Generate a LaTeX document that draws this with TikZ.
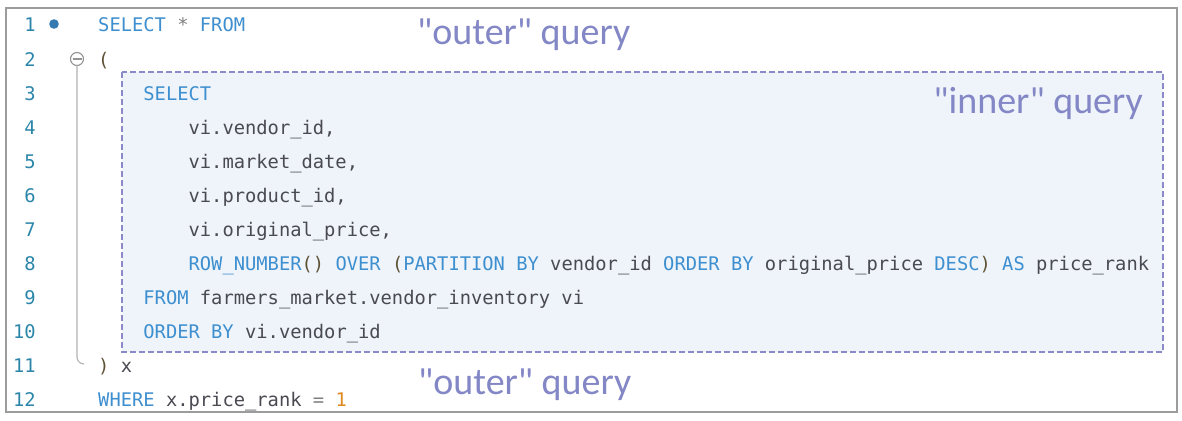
\documentclass[tikz,border=0pt]{standalone}
\usepackage{fontspec}
\newfontfamily\codefont{DejaVu Sans Mono}
\newfontfamily\labelfont{Carlito}
\definecolor{kwc}{HTML}{3E8FCF}
\definecolor{idc}{HTML}{4A4A52}
\definecolor{lnc}{HTML}{2B86AA}
\definecolor{pac}{HTML}{5E5236}
\definecolor{numc}{HTML}{E08A1E}
\definecolor{opc}{HTML}{808080}
\definecolor{lblc}{HTML}{8387C6}
\definecolor{dashc}{HTML}{8A8AC8}
\definecolor{innerfill}{HTML}{EEF4FA}
\definecolor{framec}{HTML}{9C9C9C}
\newcommand{\kw}[1]{\textcolor{kwc}{#1}}
\newcommand{\pa}[1]{\textcolor{pac}{#1}}
\newcommand{\op}[1]{\textcolor{opc}{#1}}
\newcommand{\nm}[1]{\textcolor{numc}{#1}}
\begin{document}
\begin{tikzpicture}[x=1pt,y=-1pt,
  codeline/.style={anchor=base west,inner sep=0pt,text=idc,font=\codefont\fontsize{18.77}{20}\selectfont},
  lnum/.style={anchor=base east,inner sep=0pt,text=lnc,font=\codefont\fontsize{18.77}{20}\selectfont},
  qlabel/.style={anchor=base west,inner sep=0pt,text=lblc,font=\labelfont\fontsize{38}{40}\selectfont}]
\useasboundingbox (0,0) rectangle (1182,420);
\fill[white] (0,0) rectangle (1182,420);
% frame
\draw[framec,line width=1.6pt] (6,8) rectangle (1177,412);
% inner box
\draw[dashc,fill=innerfill,line width=1.6pt,dash pattern=on 6pt off 3pt] (122,72) rectangle (1163,352);
% gutter marks
\fill[kwc!85!black] (54,24) circle (4.8);
\draw[opc!85,line width=1.1pt] (77,59) circle (6.5);
\draw[opc!85,line width=1.1pt] (72.5,59) -- (81.5,59);
\draw[opc!60,line width=1.1pt] (77,65.5) -- (77,357) arc[start angle=180,end angle=90,radius=7] coordinate (foldend);
% line numbers
\foreach \i in {1,...,12}{
  \node[lnum] (n\i) at (36,{32+(\i-1)*34.09}) {\i};
}
% code
\node[codeline] (l1) at (98,32) {\kw{SELECT} \op{*} \kw{FROM}};
\node[codeline] (l2) at (98,66.09) {\pa{(}};
\node[codeline] (l3) at (143.2,100.18) {\kw{SELECT}};
\node[codeline] (l4) at (188.4,134.27) {vi.vendor\_id,};
\node[codeline] (l5) at (188.4,168.36) {vi.market\_date,};
\node[codeline] (l6) at (188.4,202.45) {vi.product\_id,};
\node[codeline] (l7) at (188.4,236.54) {vi.original\_price,};
\node[codeline] (l8) at (188.4,270.63) {\kw{ROW\_NUMBER}\pa{()} \kw{OVER} \pa{(}\kw{PARTITION BY} vendor\_id \kw{ORDER BY} original\_price \kw{DESC}\pa{)} \kw{AS} price\_rank};
\node[codeline] (l9) at (143.2,304.72) {\kw{FROM} farmers\_market.vendor\_inventory vi};
\node[codeline] (l10) at (143.2,338.81) {\kw{ORDER BY} vi.vendor\_id};
\node[codeline] (l11) at (98,372.9) {\pa{)} x};
\node[codeline] (l12) at (98,406.99) {\kw{WHERE} x.price\_rank \op{=} \nm{1}};
% labels
\node[qlabel] (outer1) at (417,45) {"outer" query};
\node[qlabel,anchor=base east] (inner) at (1143,113) {"inner" query};
\node[qlabel] (outer2) at (418,394) {"outer" query};
\end{tikzpicture}
\end{document}
